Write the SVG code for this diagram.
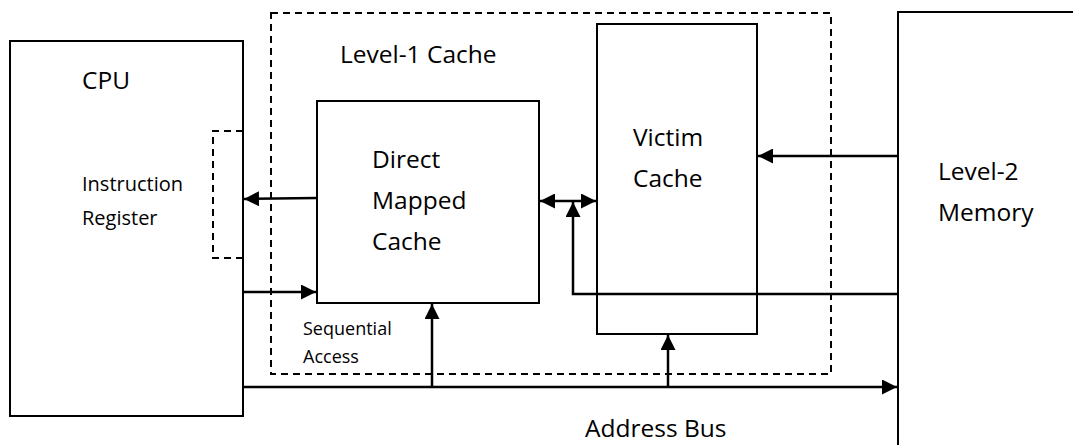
<svg xmlns="http://www.w3.org/2000/svg" width="1073" height="445" viewBox="0 0 1073 445">
  <style>
    .box { fill: none; stroke: #000; stroke-width: 2; }
    .dash { fill: none; stroke: #000; stroke-width: 2; stroke-dasharray: 7 5; }
    .wire { fill: none; stroke: #000; stroke-width: 2.5; }
    text { font-family: "Open Sans", "Liberation Sans", sans-serif; fill: #000; }
    .big { font-size: 24.5px; }
    .mid { font-size: 20px; }
    .small { font-size: 18px; }
  </style>
  <defs>
    <marker id="head" viewBox="0 0 10 10" refX="10" refY="5" markerWidth="6" markerHeight="6" markerUnits="strokeWidth" orient="auto-start-reverse">
      <path d="M0,0 L10,5 L0,10 z" fill="#000"/>
    </marker>
  </defs>

  <rect width="1073" height="445" fill="#fff"/>

  <!-- Level-1 cache boundary -->
  <g id="level1">
    <rect class="dash" x="271" y="13" width="560" height="361"/>
    <text class="big" x="340" y="63">Level-1 Cache</text>
  </g>

  <!-- CPU with instruction register -->
  <g id="cpu">
    <rect class="box" x="10" y="41" width="233" height="375"/>
    <text class="big" x="82" y="89">CPU</text>
    <path class="dash" d="M243,131 H213 V258 H243"/>
    <text class="mid" x="82" y="191">Instruction</text>
    <text class="mid" x="82" y="225">Register</text>
  </g>

  <g id="direct-mapped">
    <rect class="box" x="317" y="101" width="222" height="202"/>
    <text class="big" x="372" y="168">Direct</text>
    <text class="big" x="372" y="209">Mapped</text>
    <text class="big" x="372" y="250">Cache</text>
  </g>

  <g id="victim">
    <rect class="box" x="597" y="24" width="160" height="310"/>
    <text class="big" x="633" y="146">Victim</text>
    <text class="big" x="633" y="187">Cache</text>
  </g>

  <g id="level2">
    <rect class="box" x="898" y="12" width="200" height="460"/>
    <text class="big" x="938" y="180">Level-2</text>
    <text class="big" x="938" y="221">Memory</text>
  </g>

  <g id="labels">
    <text class="small" x="303" y="335">Sequential</text>
    <text class="small" x="303" y="363">Access</text>
    <text class="big" x="585" y="437">Address Bus</text>
  </g>

  <!-- connectors -->
  <g id="connectors">
    <line class="wire" x1="317" y1="198" x2="244" y2="199" marker-end="url(#head)"/>
    <line class="wire" x1="243" y1="292" x2="316" y2="292" marker-end="url(#head)"/>
    <line class="wire" x1="540" y1="201" x2="596" y2="201" marker-start="url(#head)" marker-end="url(#head)"/>
    <polyline class="wire" points="898,294 573,294 573,202" marker-end="url(#head)"/>
    <line class="wire" x1="898" y1="156" x2="758" y2="156" marker-end="url(#head)"/>
    <line class="wire" x1="243" y1="387" x2="897" y2="387" marker-end="url(#head)"/>
    <line class="wire" x1="432" y1="387" x2="432" y2="304" marker-end="url(#head)"/>
    <line class="wire" x1="668" y1="387" x2="668" y2="335" marker-end="url(#head)"/>
  </g>
</svg>
